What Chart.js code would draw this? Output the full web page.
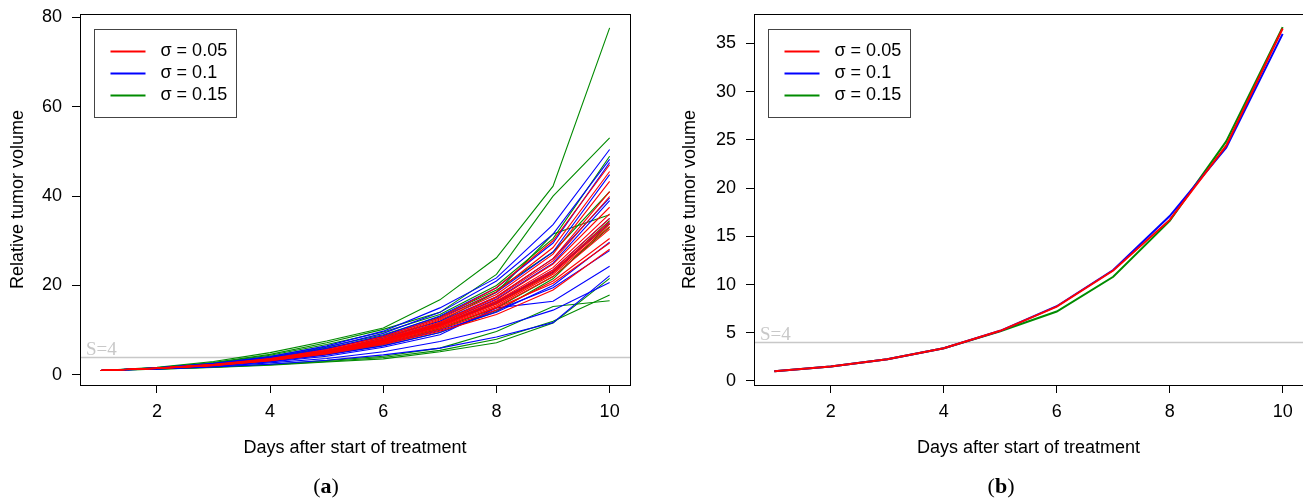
<!DOCTYPE html>
<html>
<head>
<meta charset="utf-8">
<script src="https://cdn.jsdelivr.net/npm/chart.js@4.4.1/dist/chart.umd.min.js"></script>
<style>
  body { margin: 0; width: 1303px; height: 499px; background: #fff; position: relative; overflow: hidden; }
  canvas { position: absolute; top: 0; }
  #chartA { left: 0; }
  #chartB { left: 672px; }
  .cap { position: absolute; top: 475px; width: 60px; text-align: center;
         font-family: 'Liberation Serif', serif; font-size: 22px; line-height: 22px; color: #000; }
</style>
</head>
<body>
<canvas id="chartA" width="650" height="499"></canvas>
<canvas id="chartB" width="631" height="499"></canvas>
<div class="cap" style="left:296px">(<b>a</b>)</div>
<div class="cap" style="left:971px">(<b>b</b>)</div>
<script>
var days = [1, 2, 3, 4, 5, 6, 7, 8, 9, 10];
var xTicks = [2, 4, 6, 8, 10];
var yTicksA = [0, 20, 40, 60, 80];
var yTicksB = [0, 5, 10, 15, 20, 25, 30, 35];
var sigmaLabels = ['σ = 0.05', 'σ = 0.1', 'σ = 0.15'];
var sigmaColors = ['#ff0000', '#0000ff', '#008b00'];
var threshold = 4;
var xTitle = 'Days after start of treatment';
var yTitle = 'Relative tumor volume';

// simulated runs, one row per run (panel a)
var runsSigma005 = [
  [1, 1.55, 2.4, 3.7, 5.7, 8.6, 12.8, 19.5, 30.0, 47.0],
  [1, 1.5, 2.3, 3.6, 5.5, 8.3, 12.5, 18.6, 28.5, 45.5],
  [1, 1.55, 2.35, 3.5, 5.4, 8.0, 12.3, 18.0, 27.0, 43.3],
  [1, 1.5, 2.3, 3.5, 5.3, 8.0, 11.8, 17.5, 26.0, 41.0],
  [1, 1.5, 2.25, 3.4, 5.3, 7.9, 11.6, 17.3, 25.5, 39.9],
  [1, 1.45, 2.2, 3.4, 5.2, 7.7, 11.5, 16.8, 24.8, 37.5],
  [1, 1.5, 2.25, 3.45, 5.1, 7.6, 11.3, 16.5, 24.0, 36.0],
  [1, 1.5, 2.2, 3.3, 5.1, 7.5, 11.2, 16.3, 23.5, 35.0],
  [1, 1.45, 2.2, 3.35, 5.0, 7.6, 11.0, 16.0, 23.2, 34.3],
  [1, 1.5, 2.3, 3.4, 5.2, 7.4, 10.9, 15.8, 22.8, 33.8],
  [1, 1.45, 2.15, 3.3, 5.0, 7.3, 10.8, 15.5, 22.5, 33.2],
  [1, 1.5, 2.2, 3.3, 4.9, 7.2, 10.5, 15.2, 22.0, 32.6],
  [1, 1.45, 2.15, 3.2, 4.8, 7.0, 10.2, 14.5, 21.0, 30.5],
  [1, 1.5, 2.2, 3.3, 4.9, 7.1, 10.6, 15.0, 20.5, 29.5],
  [1, 1.45, 2.1, 3.2, 4.7, 6.8, 9.8, 13.5, 19.0, 28.1]
];
var runsSigma01 = [
  [1, 1.6, 2.6, 4.1, 6.5, 9.8, 15.0, 21.7, 33.6, 50.4],
  [1, 1.55, 2.5, 3.9, 6.2, 9.3, 14.0, 21.0, 31.5, 48.2],
  [1, 1.5, 2.4, 3.8, 5.9, 8.8, 13.2, 19.5, 29.5, 47.5],
  [1, 1.55, 2.4, 3.7, 5.8, 8.6, 12.8, 18.5, 27.5, 44.8],
  [1, 1.5, 2.3, 3.5, 5.4, 8.2, 12.0, 17.5, 26.0, 39.6],
  [1, 1.45, 2.25, 3.4, 5.2, 7.8, 11.5, 17.0, 25.0, 39.0],
  [1, 1.5, 2.2, 3.3, 5.0, 7.4, 11.0, 16.2, 23.5, 35.0],
  [1, 1.45, 2.2, 3.4, 5.1, 7.6, 11.2, 16.5, 23.0, 34.0],
  [1, 1.45, 2.1, 3.1, 4.7, 6.8, 10.0, 14.0, 20.0, 29.7],
  [1, 1.4, 2.0, 3.0, 4.5, 6.5, 9.5, 14.5, 19.5, 27.8],
  [1, 1.4, 2.0, 2.9, 4.2, 6.2, 9.0, 15.0, 16.5, 24.3],
  [1, 1.35, 1.8, 2.4, 3.3, 4.5, 6.0, 8.5, 11.7, 22.2],
  [1, 1.35, 1.9, 2.7, 3.7, 5.2, 7.5, 10.5, 14.5, 20.7]
];
var runsSigma015 = [
  [1, 1.7, 3.0, 5.0, 7.6, 10.5, 16.8, 26.2, 42.2, 77.6],
  [1, 1.6, 2.8, 4.6, 7.2, 10.2, 14.0, 22.5, 40.0, 53.0],
  [1, 1.6, 2.7, 4.4, 6.8, 9.6, 13.5, 20.0, 30.5, 48.9],
  [1, 1.55, 2.6, 4.2, 6.3, 9.0, 13.0, 19.0, 27.5, 41.0],
  [1, 1.5, 2.5, 4.0, 6.0, 8.5, 12.0, 18.5, 31.5, 35.8],
  [1, 1.5, 2.3, 3.6, 5.4, 7.8, 11.3, 16.0, 23.0, 34.5],
  [1, 1.4, 2.1, 3.1, 4.6, 6.6, 9.5, 14.2, 21.5, 33.8],
  [1, 1.45, 2.2, 3.3, 4.9, 7.0, 10.3, 15.0, 22.0, 33.0],
  [1, 1.3, 1.7, 2.2, 2.9, 3.6, 5.2, 7.2, 11.6, 21.6],
  [1, 1.35, 1.8, 2.4, 3.2, 4.2, 6.0, 9.7, 15.3, 16.6],
  [1, 1.3, 1.75, 2.3, 3.0, 3.9, 5.5, 8.0, 12.0, 17.9]
];

// mean curves (panel b)
var meanSigma005 = [1.0, 1.5, 2.25, 3.4, 5.2, 7.7, 11.45, 16.7, 24.4, 36.55];
var meanSigma01 = [1.0, 1.5, 2.25, 3.4, 5.2, 7.75, 11.5, 17.1, 24.2, 36.0];
var meanSigma015 = [1.0, 1.5, 2.25, 3.4, 5.15, 7.2, 10.8, 16.6, 24.85, 36.7];

Chart.defaults.font.family = "'Liberation Sans', Arial, sans-serif";
Chart.defaults.font.size = 18;
Chart.defaults.color = '#000';

function toPoints(vals) {
  return days.map(function (d, i) { return { x: d, y: vals[i] }; });
}

function lineSet(vals, color, width) {
  return {
    data: toPoints(vals),
    borderColor: color,
    borderWidth: width,
    pointRadius: 0,
    tension: 0,
    fill: false
  };
}

// box, threshold line and legend
var framePlugin = {
  id: 'frame',
  beforeDatasetsDraw: function (chart) {
    var ctx = chart.ctx, a = chart.chartArea;
    var ty = Math.round(chart.scales.y.getPixelForValue(threshold)) + 0.5;
    ctx.save();
    ctx.strokeStyle = '#c8c8c8';
    ctx.lineWidth = 1.5;
    ctx.beginPath();
    ctx.moveTo(a.left, ty);
    ctx.lineTo(a.right, ty);
    ctx.stroke();
    ctx.fillStyle = '#c8c8c8';
    ctx.font = "19px 'Liberation Serif', serif";
    ctx.textBaseline = 'alphabetic';
    ctx.fillText('S=' + threshold, a.left + 6, ty - 2.5);
    ctx.restore();
  },
  afterDraw: function (chart) {
    var ctx = chart.ctx, a = chart.chartArea;
    ctx.save();
    ctx.strokeStyle = '#000';
    ctx.lineWidth = 1;
    ctx.strokeRect(Math.round(a.left) + 0.5, Math.round(a.top) + 0.5,
      Math.round(a.right - a.left), Math.round(a.bottom - a.top));

    var lx = Math.round(a.left) + 14.5, ly = Math.round(a.top) + 15.5;
    ctx.strokeStyle = '#444';
    ctx.strokeRect(lx, ly, 142, 88);
    ctx.font = "18px 'Liberation Sans', Arial, sans-serif";
    ctx.textBaseline = 'middle';
    ctx.fillStyle = '#000';
    for (var i = 0; i < sigmaLabels.length; i++) {
      var ry = ly + 22 + i * 22;
      ctx.strokeStyle = sigmaColors[i];
      ctx.lineWidth = 2;
      ctx.beginPath();
      ctx.moveTo(lx + 16, ry);
      ctx.lineTo(lx + 51, ry);
      ctx.stroke();
      ctx.fillText(sigmaLabels[i], lx + 66, ry);
    }
    ctx.restore();
  }
};

function makeChart(id, datasets, yMin, yMax, yTicks, leftWidth, padRight) {
  return new Chart(document.getElementById(id), {
    type: 'line',
    data: { datasets: datasets },
    plugins: [framePlugin],
    options: {
      responsive: false,
      animation: false,
      devicePixelRatio: 1,
      layout: { padding: { top: 14, right: padRight, left: 0, bottom: 0 } },
      plugins: { legend: { display: false }, tooltip: { enabled: false } },
      scales: {
        x: {
          type: 'linear',
          min: 0.64,
          max: 10.36,
          afterBuildTicks: function (s) { s.ticks = xTicks.map(function (v) { return { value: v }; }); },
          afterFit: function (s) { s.height = 114; s.paddingLeft = 0; s.paddingRight = 0; },
          ticks: { padding: 8, maxRotation: 0, color: '#000' },
          grid: { display: true, drawOnChartArea: false, drawTicks: true, tickLength: 8, color: '#000' },
          border: { display: false },
          title: { display: true, text: xTitle, color: '#000', padding: { top: 0, bottom: 40 } }
        },
        y: {
          type: 'linear',
          min: yMin,
          max: yMax,
          afterBuildTicks: function (s) { s.ticks = yTicks.map(function (v) { return { value: v }; }); },
          afterFit: function (s) { s.width = leftWidth; s.paddingTop = 0; s.paddingBottom = 0; },
          ticks: { padding: 10, color: '#000' },
          grid: { display: true, drawOnChartArea: false, drawTicks: true, tickLength: 8, color: '#000' },
          border: { display: false },
          title: { display: true, text: yTitle, color: '#000', padding: { top: 7, bottom: 0 } }
        }
      }
    }
  });
}

// panel a: red on top, so it comes first
var setsA = [];
runsSigma005.forEach(function (r) { setsA.push(lineSet(r, sigmaColors[0], 1.1)); });
runsSigma01.forEach(function (r) { setsA.push(lineSet(r, sigmaColors[1], 1.1)); });
runsSigma015.forEach(function (r) { setsA.push(lineSet(r, sigmaColors[2], 1.1)); });

var setsB = [
  lineSet(meanSigma005, sigmaColors[0], 2),
  lineSet(meanSigma01, sigmaColors[1], 2),
  lineSet(meanSigma015, sigmaColors[2], 2)
];

makeChart('chartA', setsA, -2.24, 80.7, yTicksA, 80, 20);
makeChart('chartB', setsB, -0.42, 38.06, yTicksB, 82, 0);
</script>
</body>
</html>
